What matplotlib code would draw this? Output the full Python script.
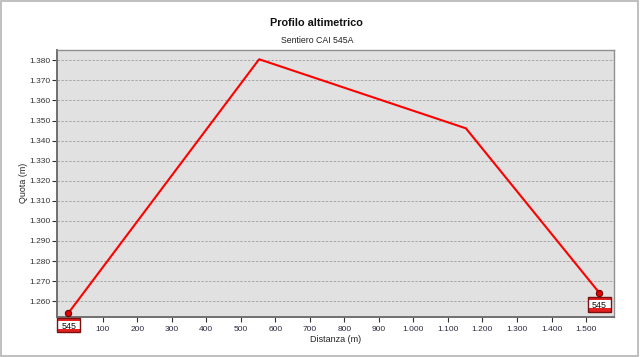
import matplotlib
matplotlib.use("Agg")
import matplotlib.pyplot as plt
from matplotlib.patches import Rectangle
from matplotlib.ticker import FuncFormatter, MultipleLocator
import matplotlib.transforms as mtransforms

# Data
distance = [0, 553, 1152, 1538]
elevation = [1254.0, 1380.5, 1346.1, 1264.3]
marker_idx = [0, 3]
label_text = "545"
title = "Profilo altimetrico"
subtitle = "Sentiero CAI 545A"
xlabel = "Distanza (m)"
ylabel = "Quota (m)"

plt.rcParams['font.family'] = ['Liberation Sans', 'DejaVu Sans']

fig = plt.figure(figsize=(6.4, 3.57), dpi=100)
fig.patch.set_facecolor('white')
fig.patches.append(Rectangle((0.002, 0.003), 0.995, 0.994, transform=fig.transFigure,
                             fill=False, edgecolor='#b4b4b4', linewidth=1.2))

ax = fig.add_axes([0.0891, 0.1129, 0.8708, 0.747])
ax.set_facecolor('#e1e1e1')

ax.plot(distance, elevation, color='#ff0000', linewidth=1.5, zorder=3)
ax.plot([distance[i] for i in marker_idx], [elevation[i] for i in marker_idx],
        linestyle='none', marker='o', markersize=4.5, markerfacecolor='#e00000',
        markeredgecolor='#700000', markeredgewidth=0.8, zorder=4)

ax.set_xlim(-32.4, 1582)
ax.set_ylim(1252.3, 1385.1)
ax.xaxis.set_major_locator(MultipleLocator(100))
ax.yaxis.set_major_locator(MultipleLocator(10))

def fmt(v, pos):
    iv = int(round(v))
    if iv == 0:
        return ""
    return f"{iv:,}".replace(",", ".")
ax.xaxis.set_major_formatter(FuncFormatter(fmt))
ax.yaxis.set_major_formatter(FuncFormatter(fmt))

ax.grid(axis='y', color='#a8a8a8', linestyle=(0, (2.5, 1.5)), linewidth=0.7)
ax.grid(axis='x', visible=False)
ax.set_axisbelow(True)

ax.tick_params(axis='both', labelsize=6.0, colors='#333333', length=3.5, width=0.8,
               direction='out')
ax.tick_params(axis='y', pad=1.0)
ax.tick_params(axis='x', labelcolor='#2a2a40', pad=3.5)
for s in ['left', 'bottom']:
    ax.spines[s].set_color('#707070')
    ax.spines[s].set_linewidth(1.4)
for s in ['top', 'right']:
    ax.spines[s].set_color('#909090')
    ax.spines[s].set_linewidth(1.0)

ax.set_xlabel(xlabel, fontsize=6.5, color='#222222', labelpad=1)
ax.set_ylabel(ylabel, fontsize=6.4, color='#222222', labelpad=1.0)

fig.text(0.495, 0.935, title, ha='center', va='center', fontsize=7.8, fontweight='bold', color='#111111')
fig.text(0.495, 0.886, subtitle, ha='center', va='center', fontsize=6.3, color='#222222')

# Labels below markers (box in pixels)
bw, bh = 23, 14.5
band = 3.3
gap = 4.5
for i in marker_idx:
    x, y = distance[i], elevation[i]
    for (dy0, h, fc) in [(0, bh, 'white'), (0, band, '#e42020'), (bh - band, band, '#e42020')]:
        trans = mtransforms.offset_copy(ax.transData, fig=fig, x=-bw / 2, y=-gap - bh + dy0, units='dots')
        pt = trans.transform((x, y))
        ax.add_artist(Rectangle(tuple(pt), bw, h, transform=None, facecolor=fc, edgecolor='none',
                                clip_on=False, zorder=10))
    trans = mtransforms.offset_copy(ax.transData, fig=fig, x=-bw / 2, y=-gap - bh, units='dots')
    pt = trans.transform((x, y))
    ax.add_artist(Rectangle(tuple(pt), bw, bh, transform=None, facecolor='none',
                            edgecolor='#7a1010', linewidth=1.0, clip_on=False, zorder=11))
    tt = mtransforms.offset_copy(ax.transData, fig=fig, x=0.5, y=-gap - bh / 2 - 0.5, units='dots')
    ax.text(x, y, label_text, transform=tt, ha='center', va='center_baseline', fontsize=6.4,
            color='#111111', zorder=12, clip_on=False)

fig.savefig("out.png", dpi=100)
